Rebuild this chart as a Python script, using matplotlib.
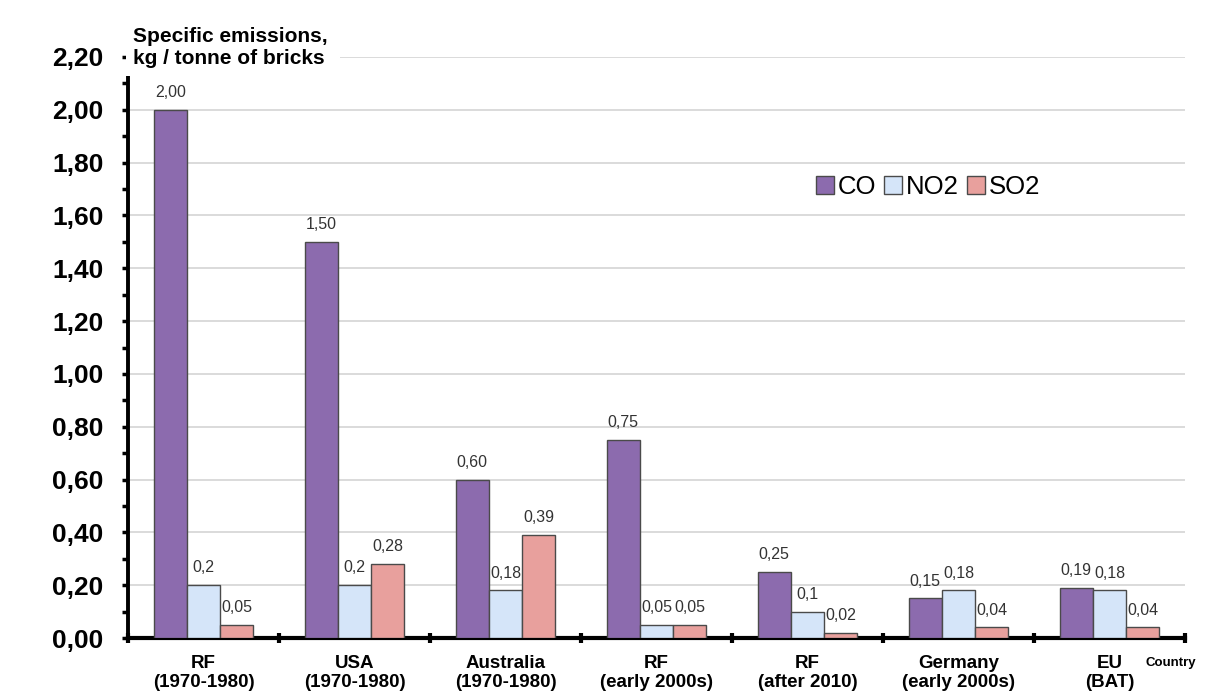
import matplotlib.pyplot as plt
import numpy as np
from matplotlib.ticker import MultipleLocator, FuncFormatter
from matplotlib.patches import Rectangle

plt.rcParams['font.family'] = ['Liberation Sans', 'DejaVu Sans']

# emissions per tonne of bricks, kg
countries = ["RF\n(1970-1980)", "USA\n(1970-1980)", "Australia\n(1970-1980)",
             "RF\n(early 2000s)", "RF\n(after 2010)", "Germany\n(early 2000s)",
             "EU\n(BAT)"]
co = [2.00, 1.50, 0.60, 0.75, 0.25, 0.15, 0.19]
no2 = [0.2, 0.2, 0.18, 0.05, 0.1, 0.18, 0.18]
so2 = [0.05, 0.28, 0.39, 0.05, 0.02, 0.04, 0.04]
co_labels = ["2,00", "1,50", "0,60", "0,75", "0,25", "0,15", "0,19"]
no2_labels = ["0,2", "0,2", "0,18", "0,05", "0,1", "0,18", "0,18"]
so2_labels = ["0,05", "0,28", "0,39", "0,05", "0,02", "0,04", "0,04"]

colors = {"CO": "#8c6bae", "NO2": "#d5e5f9", "SO2": "#e8a09d"}

W, H = 1222, 695
fig = plt.figure(figsize=(W/100, H/100), dpi=100)
ax = fig.add_axes([128/W, 1 - 638/H, (1185-128)/W, (638-57)/H])

x = np.arange(len(countries)) + 0.5
w = 0.22
series = [("CO", co, co_labels, -w), ("NO2", no2, no2_labels, 0), ("SO2", so2, so2_labels, w)]
for name, vals, labs, off in series:
    bars = ax.bar(x + off, vals, w, color=colors[name], edgecolor="#4a4a4a",
                  linewidth=1.0, label=name, zorder=3)
    for b, lab in zip(bars, labs):
        ax.annotate(lab, (b.get_x() + b.get_width()/2, b.get_height()),
                    xytext=(0, 7), textcoords="offset points",
                    ha="center", va="bottom", fontsize=11.5, color="#333333")

ax.set_xlim(0, len(countries))
ax.set_ylim(0, 2.2)
ax.yaxis.set_major_locator(MultipleLocator(0.2))
ax.yaxis.set_minor_locator(MultipleLocator(0.1))
ax.yaxis.set_major_formatter(FuncFormatter(lambda v, p: f"{v:.2f}".replace(".", ",")))
ax.grid(axis="y", color="#d4d4d4", linewidth=1.2, zorder=0)
ax.set_axisbelow(True)

# group separators on the x axis, labels between them
ax.set_xticks(np.arange(len(countries) + 1))
ax.set_xticklabels([])
ax.set_xticks(x, minor=True)
ax.set_xticklabels(countries, minor=True, fontsize=13.5, fontweight="bold",
                   linespacing=1.15)
ax.tick_params(axis="x", which="major", direction="inout", length=7, width=3)
ax.tick_params(axis="x", which="minor", length=0, pad=12)
ax.tick_params(axis="y", which="major", length=4.5, width=2.5, labelsize=19, pad=13)
ax.tick_params(axis="y", which="minor", length=4.5, width=2.5)
for lab in ax.get_yticklabels():
    lab.set_fontweight("bold")

for s in ["top", "right"]:
    ax.spines[s].set_visible(False)
ax.spines["left"].set_linewidth(2.8)
ax.spines["bottom"].set_linewidth(3)

# white panel behind the axis title, hiding the top of the spine
fig.patches.append(Rectangle((126/W, 1 - 76/H), 214/W, 64/H, transform=fig.transFigure,
                             facecolor="white", edgecolor="none", zorder=5))
fig.text(133/W, 1 - 47/H, "Specific emissions,\nkg / tonne of bricks",
         fontsize=15, fontweight="bold", ha="left", va="center",
         linespacing=1.2, zorder=10)
fig.text(1145/W, 1 - 663/H, "Country", fontsize=9.5, fontweight="bold",
         ha="left", va="center")

ax.legend(loc="center", bbox_to_anchor=((928-128)/1057, (638-187)/581),
          ncol=3, frameon=False, fontsize=18.5, handlelength=0.7,
          handleheight=0.7, handletextpad=0.15, columnspacing=0.3)

fig.savefig("out.png", dpi=100)
